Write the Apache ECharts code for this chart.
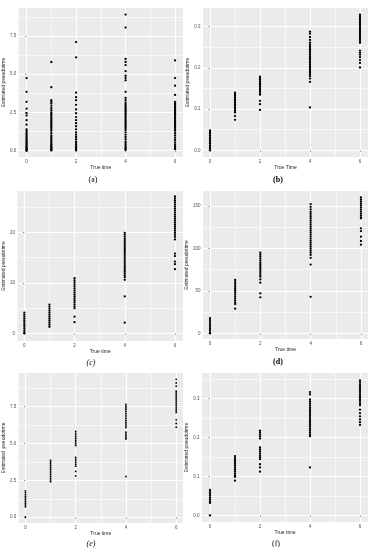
<!DOCTYPE html>
<html><head><meta charset="utf-8">
<script src="https://cdn.jsdelivr.net/npm/echarts@6/dist/echarts.min.js"></script>
<style>html,body{margin:0;padding:0;background:#fff}#c{width:381px;height:550px}</style>
</head><body><div id="c"></div>
<script>
// ---------- data ----------
const xTimes = [0, 1, 2, 4, 6];
const xTickValues = [0, 2, 4, 6];
const xTickLabels = ['0', '2', '4', '6'];

// panel (a)
const a0 = [4.75,3.85,3.2,2.75,2.45,2.3,2.0,1.7,1.4,1.3,1.2,1.1,1.0,0.9,0.8,0.7,0.62,0.55,0.48,0.4,0.33,0.26,0.2,0.14,0.08,0.03,0.0];
const a1 = [5.8,4.15,3.3,3.2,3.1,2.95,2.8,2.65,2.5,2.4,2.3,2.2,2.1,2.0,1.9,1.8,1.7,1.6,1.5,1.4,1.3,1.15,1.0,0.9,0.8,0.7,0.6,0.5,0.42,0.35,0.28,0.22,0.16,0.1,0.05,0.02];
const a2 = [7.1,6.1,3.8,3.5,3.3,3.0,2.7,2.45,2.2,2.0,1.8,1.6,1.4,1.2,1.05,0.9,0.75,0.6,0.5,0.4,0.3,0.22,0.15,0.08,0.03];
const a4 = [8.9,8.05,6.0,5.8,5.6,5.2,4.9,4.75,4.6,3.85,3.45,3.3,3.15,3.05,2.95,2.85,2.75,2.65,2.55,2.45,2.35,2.25,2.15,2.05,1.95,1.85,1.75,1.65,1.55,1.45,1.35,1.2,1.05,0.9,0.75,0.6,0.5,0.4,0.3,0.2,0.12,0.05];
const a6 = [5.9,4.75,4.25,3.65,3.2,3.1,3.0,2.9,2.8,2.7,2.6,2.5,2.4,2.3,2.2,2.1,2.0,1.9,1.8,1.7,1.6,1.5,1.4,1.3,1.15,1.0,0.85,0.7,0.55,0.42,0.3,0.18,0.1];
const aYTicks = [0, 2.5, 5, 7.5];
const aYLabels = ['0.0', '2.5', '5.0', '7.5'];
const aYMinor = [1.25, 3.75, 6.25, 8.75];

// panel (b)
const b0 = [0.048,0.044,0.04,0.036,0.032,0.028,0.024,0.02,0.016,0.012,0.008,0.004,0.0];
const b1 = [0.14,0.136,0.132,0.128,0.124,0.12,0.116,0.112,0.108,0.104,0.1,0.096,0.092,0.083,0.074];
const b2 = [0.179,0.175,0.171,0.167,0.163,0.159,0.155,0.151,0.147,0.143,0.139,0.135,0.12,0.112,0.098];
const b4 = [0.288,0.283,0.275,0.268,0.261,0.256,0.252,0.248,0.244,0.24,0.236,0.232,0.228,0.224,0.22,0.216,0.212,0.208,0.204,0.2,0.196,0.192,0.188,0.184,0.18,0.174,0.166,0.104];
const b6 = [0.329,0.325,0.321,0.317,0.313,0.309,0.305,0.301,0.297,0.293,0.289,0.285,0.281,0.277,0.273,0.269,0.265,0.261,0.242,0.237,0.232,0.226,0.219,0.212,0.201];
const bYTicks = [0, 0.1, 0.2, 0.3];
const bYLabels = ['0.0', '0.1', '0.2', '0.3'];
const bYMinor = [0.05, 0.15, 0.25];

// panel (c)
const c0 = [4.1,3.7,3.3,2.9,2.5,2.1,1.7,1.3,0.9,0.5,0.1,0.0];
const c1 = [5.7,5.3,4.9,4.5,4.1,3.7,3.3,2.9,2.5,2.1,1.7,1.3];
const c2 = [10.9,10.5,10.1,9.7,9.3,8.9,8.5,8.1,7.7,7.3,6.9,6.5,6.1,5.7,5.3,4.95,3.3,2.2];
const c4 = [19.9,19.5,19.1,18.7,18.3,17.9,17.5,17.1,16.7,16.3,15.9,15.5,15.1,14.7,14.3,13.9,13.5,13.1,12.7,12.3,11.9,11.5,11.1,10.6,7.3,2.1];
const c6 = [27.1,26.7,26.3,25.9,25.5,25.1,24.7,24.3,23.9,23.5,23.1,22.7,22.3,21.9,21.5,21.1,20.7,20.3,19.9,19.5,19.1,18.6,15.8,15.3,14.2,13.7,12.7];
const cYTicks = [0, 10, 20];
const cYLabels = ['0', '10', '20'];
const cYMinor = [5, 15, 25];

// panel (d)
const d0 = [18,15.6,13.2,10.8,8.4,6,3.6,1.2,0];
const d1 = [62.8,60.4,58,55.6,53.2,50.8,48.4,46,43.6,41.2,38.8,36.4,34.5,29];
const d2 = [95,92.6,90.2,87.8,85.4,83,80.6,78.2,75.8,73.4,71,68.6,66.7,63.5,59.7,47,42.4];
const d4 = [152.3,149,146,143,140.5,138,135.6,133.2,130.8,128.4,126,123.6,121.2,118.8,116.4,114,111.6,109.2,106.8,104.4,102,99.6,97.2,94.8,92.4,89,81,43];
const d6 = [160.2,157.8,155.4,153,150.6,148.2,145.8,143.4,141,138.6,136.2,135.5,123.7,120.5,113.9,108.8,104.4];
const dYTicks = [0, 50, 100, 150];
const dYLabels = ['0', '50', '100', '150'];
const dYMinor = [25, 75, 125];

// panel (e)
const e0 = [1.79,1.67,1.55,1.43,1.31,1.19,1.07,0.95,0.83,0.71,0.02];
const e1 = [3.85,3.73,3.61,3.49,3.37,3.25,3.13,3.01,2.89,2.77,2.65,2.53,2.41];
const e2 = [5.82,5.7,5.58,5.46,5.34,5.22,5.1,4.98,4.86,4.06,3.94,3.82,3.7,3.58,3.46,3.1,2.8];
const e4 = [7.64,7.52,7.4,7.28,7.16,7.04,6.92,6.8,6.68,6.56,6.44,6.32,6.2,6.08,5.76,5.64,5.52,5.4,5.3,2.76];
const e6 = [9.34,9.1,8.88,8.54,8.42,8.3,8.18,8.06,7.94,7.82,7.7,7.58,7.46,7.34,7.22,7.1,6.6,6.35,6.1];
const eYTicks = [0, 2.5, 5, 7.5];
const eYLabels = ['0.0', '2.5', '5.0', '7.5'];
const eYMinor = [1.25, 3.75, 6.25, 8.75];

// panel (f)
const f0 = [0.065,0.06,0.055,0.05,0.045,0.04,0.035,0.032,0];
const f1 = [0.152,0.147,0.142,0.137,0.132,0.127,0.122,0.117,0.112,0.107,0.102,0.099,0.089];
const f2 = [0.217,0.212,0.207,0.202,0.197,0.174,0.169,0.164,0.159,0.154,0.149,0.144,0.131,0.123,0.112];
const f4 = [0.316,0.31,0.297,0.292,0.287,0.282,0.277,0.272,0.267,0.262,0.257,0.252,0.247,0.242,0.237,0.232,0.227,0.222,0.217,0.212,0.207,0.203,0.123];
const f6 = [0.346,0.341,0.336,0.331,0.326,0.321,0.316,0.311,0.306,0.301,0.296,0.291,0.286,0.282,0.271,0.262,0.254,0.246,0.239,0.232];
const fYTicks = [0, 0.1, 0.2, 0.3];
const fYLabels = ['0.0', '0.1', '0.2', '0.3'];
const fYMinor = [0.05, 0.15, 0.25, 0.35];

const xMinor = [1, 3, 5];
const panelLabels = ['(a)', '(b)', '(c)', '(d)', '(e)', '(f)'];
const xNames = ['True time', 'True Time', 'True time', 'True time', 'True time', 'True time'];
const yNames = ['Estimated pseudotime', 'Estimated pseudotime', 'Estimated pseudotime', 'Estimated pseudotime', 'Estimated  pseudotime', 'Estimated pseudotime'];

// ---------- layout ----------
const panels = [
  {cols:[a0,a1,a2,a4,a6], yt:aYTicks, yl:aYLabels, ym:aYMinor, left:16, top:8, w:167, h:149, xMin:-0.32, xMax:6.32, yMin:-0.41, yMax:9.33, yGap:8, xGap:4.5, sym:2.3, lx:93, ly:180, font:{fontWeight:'normal', fontStyle:'normal'}},
  {cols:[b0,b1,b2,b4,b6], yt:bYTicks, yl:bYLabels, ym:bYMinor, left:203, top:8, w:165, h:149, xMin:-0.28, xMax:6.32, yMin:-0.0163, yMax:0.3454, yGap:8, xGap:3.5, sym:2.3, lx:278, ly:180, font:{fontWeight:'bold', fontStyle:'normal'}},
  {cols:[c0,c1,c2,c4,c6], yt:cYTicks, yl:cYLabels, ym:cYMinor, left:16, top:191, w:167, h:150, xMin:-0.276, xMax:6.32, yMin:-1.52, yMax:28.18, yGap:6.5, xGap:3.5, sym:2.3, lx:91, ly:363, font:{fontWeight:'normal', fontStyle:'italic'}},
  {cols:[d0,d1,d2,d4,d6], yt:dYTicks, yl:dYLabels, ym:dYMinor, left:203, top:191, w:165, h:148, xMin:-0.278, xMax:6.28, yMin:-6.7, yMax:167.7, yGap:7.5, xGap:5.5, sym:2.3, lx:278, ly:362, font:{fontWeight:'bold', fontStyle:'normal'}},
  {cols:[e0,e1,e2,e4,e6], yt:eYTicks, yl:eYLabels, ym:eYMinor, left:13, top:373, w:170, h:150, xMin:-0.27, xMax:6.27, yMin:-0.39, yMax:9.77, yGap:5.5, xGap:4.5, sym:1.8, lx:91, ly:544, font:{fontWeight:'normal', fontStyle:'italic'}},
  {cols:[f0,f1,f2,f4,f6], yt:fYTicks, yl:fYLabels, ym:fYMinor, left:202, top:373, w:166, h:149, xMin:-0.32, xMax:6.32, yMin:-0.017, yMax:0.365, yGap:6.5, xGap:4.5, sym:2.3, lx:276, ly:544, font:{fontWeight:'normal', fontStyle:'normal'}}
];

const textColor = '#4D4D4D';
const fontFam = 'Liberation Sans, Arial, sans-serif';
const grid = [], xAxis = [], yAxis = [], series = [], graphic = [];
const majorLine = {show:true, lineStyle:{color:'#FFFFFF', width:1.2, type:'solid'}};
const minorLine = {show:true, lineStyle:{color:'#FFFFFF', width:0.6, type:'solid'}};

panels.forEach((p, i) => {
  grid.push({left:p.left, top:p.top, width:p.w, height:p.h, show:true, backgroundColor:'#EBEBEB', borderWidth:0, containLabel:false});
  const xi = xAxis.length, yi = yAxis.length;
  xAxis.push({
    gridIndex:i, type:'value', min:p.xMin, max:p.xMax, z:1,
    axisLine:{show:false},
    axisTick:{show:true, length:1.5, lineStyle:{color:'#333', width:0.5}, customValues:xTickValues},
    axisLabel:{customValues:xTickValues, fontSize:4.5, color:textColor, margin:2.5, fontFamily:fontFam,
      formatter:(v)=>{const k = xTickValues.indexOf(v); return k>=0 ? xTickLabels[k] : '';}},
    splitLine:majorLine,
    name:xNames[i], nameLocation:'middle', nameGap:p.xGap,
    nameTextStyle:{fontSize:5, color:'#222', fontFamily:fontFam}
  });
  yAxis.push({
    gridIndex:i, type:'value', min:p.yMin, max:p.yMax, z:1,
    axisLine:{show:false},
    axisTick:{show:true, length:1.5, lineStyle:{color:'#333', width:0.5}, customValues:p.yt},
    axisLabel:{customValues:p.yt, fontSize:4.5, color:textColor, margin:2.5, fontFamily:fontFam,
      formatter:(v)=>{const k = p.yt.findIndex(t=>Math.abs(t-v)<1e-9); return k>=0 ? p.yl[k] : '';}},
    splitLine:majorLine,
    name:yNames[i], nameLocation:'middle', nameGap:p.yGap,
    nameTextStyle:{fontSize:5, color:'#222', fontFamily:fontFam}
  });
  xAxis.push({
    gridIndex:i, type:'value', min:p.xMin, max:p.xMax, position:'bottom', z:0,
    axisLine:{show:false}, axisTick:{show:false, customValues:xMinor},
    axisLabel:{show:false, customValues:xMinor}, splitLine:minorLine
  });
  const ym = p.ym.filter(v=>v<p.yMax);
  yAxis.push({
    gridIndex:i, type:'value', min:p.yMin, max:p.yMax, position:'left', z:0,
    axisLine:{show:false}, axisTick:{show:false, customValues:ym},
    axisLabel:{show:false, customValues:ym}, splitLine:minorLine
  });
  const pts = [];
  p.cols.forEach((col, k) => col.forEach(v => pts.push([xTimes[k], v])));
  series.push({
    type:'scatter', xAxisIndex:xi, yAxisIndex:yi, data:pts, z:3,
    symbol:'circle', symbolSize:p.sym, itemStyle:{color:'#000', opacity:1}, silent:true
  });
  graphic.push({type:'text', x:p.lx, y:p.ly, style:{text:panelLabels[i], fill:'#000', font:`${p.font.fontStyle} ${p.font.fontWeight} 8px "Liberation Serif", "DejaVu Serif", serif`, align:'center', verticalAlign:'middle'}});
});

const chart = echarts.init(document.getElementById('c'), null, {renderer:'canvas'});
chart.setOption({animation:false, grid, xAxis, yAxis, series, graphic});
</script>
</body></html>
